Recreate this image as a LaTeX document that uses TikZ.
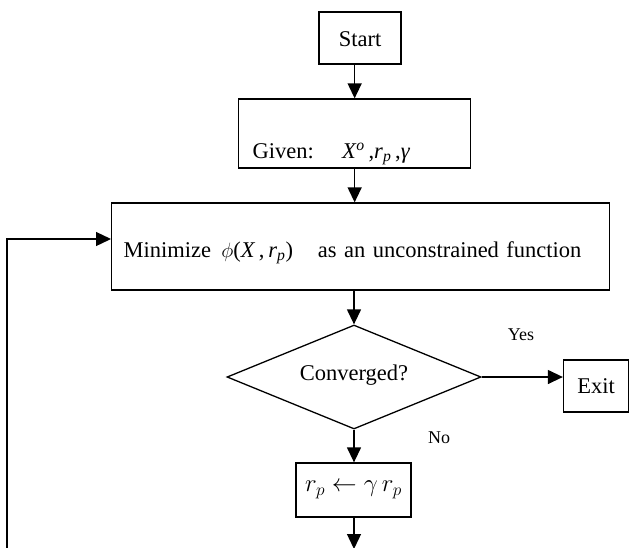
\documentclass[tikz,border=0pt]{standalone}
\usepackage{fontspec}
\setmainfont{Liberation Serif}
\usetikzlibrary{arrows.meta,shapes.geometric}
\begin{document}
\begin{tikzpicture}[x=1pt,y=-1pt,
  line width=1.3pt,
  box/.style={draw, line width=1.3pt, inner sep=0pt, font=\fontsize{22.5}{27}\selectfont},
  arr/.style={-{Triangle[length=15pt,width=14pt]}, line width=1.3pt},
  lbl/.style={font=\fontsize{18}{21}\selectfont, inner sep=0pt}]
\useasboundingbox (0,0) rectangle (629,547);

\node[box, anchor=base, minimum width=82pt, text height=34pt, text depth=18pt] (start) at (360,46) {Start};

\node[box, anchor=base west, text width=204pt, inner xsep=14pt, inner ysep=0pt, text height=59pt, text depth=10pt, align=left] (given) at (238,158)
  {Given:\hspace{1.25em}\textit{X}\textsuperscript{\textit{o}}\,,\textit{r}\textsubscript{\textit{p}}\,,\textit{γ}};

\node[box, anchor=base west, text width=474pt, inner xsep=12pt, inner ysep=0pt, text height=54pt, text depth=33pt, align=left] (minz) at (111,257)
  {Minimize\hspace{0.45em}$\phi$(\textit{X}\,,\,\textit{r}\textsubscript{\textit{p}})\hspace{1.1em}as an unconstrained function};

\node[draw, diamond, aspect=2.44, minimum width=254pt, minimum height=104pt, inner sep=0pt, text height=10pt, text depth=4pt, font=\fontsize{22.5}{27}\selectfont] (dia) at (354,377) {Converged?};

\node[box, minimum width=65pt, minimum height=52pt] (exit) at (596,386) {Exit};

\node[box, minimum width=115pt, minimum height=54pt, font=\fontsize{23.5}{27}\selectfont] (rp) at (353.5,490) {$r_p\leftarrow\gamma\,r_p$};

\node[lbl] (yes) at (521,335) {Yes};
\node[lbl] (no) at (439,438) {No};

\coordinate (bot) at (354,549);
\coordinate (fb) at (7,549);

\draw[arr] (start.south -| given.north) -- (given.north);
\draw[arr] (given.south) -- (given.south |- minz.north);
\draw[arr] (minz.south -| dia.north) -- (dia.north);
\draw[arr] (dia.east) -- (dia.east -| exit.west);
\draw[arr] (dia.south) -- (dia.south |- rp.north);
\draw[arr] (dia.south |- rp.south) -- (bot);
\draw[arr] (fb) |- ([yshift=7.5pt]minz.west);
\end{tikzpicture}
\end{document}
